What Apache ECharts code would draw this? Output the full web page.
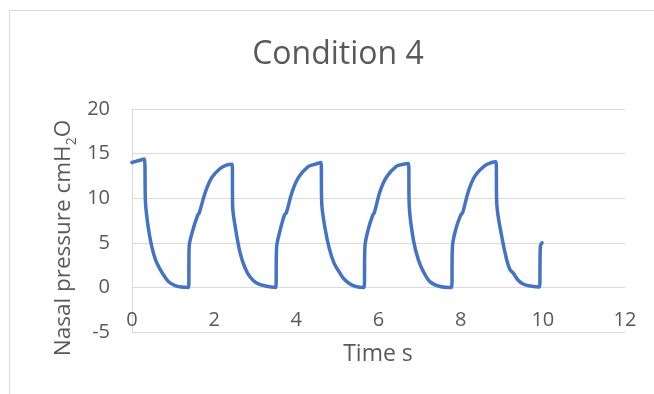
<!DOCTYPE html>
<html>
<head>
<meta charset="utf-8">
<title>Condition 4</title>
<script src="https://cdn.jsdelivr.net/npm/echarts@6/dist/echarts.min.js"></script>
<style>
  html, body { margin: 0; padding: 0; background: #fff; }
  #chart { width: 654px; height: 394px; }
</style>
</head>
<body>
<div id="chart"></div>
<script>
// time (s) and nasal pressure (cmH2O)
const timeS = [
  0.00, 0.15, 0.30, 0.33, 0.40, 0.48, 0.58, 0.70, 0.78, 0.90, 1.05, 1.20, 1.38,
  1.39, 1.48, 1.60, 1.64, 1.78, 1.94, 2.14, 2.30, 2.44,
  2.45, 2.52, 2.63, 2.75, 2.87, 3.03, 3.25, 3.50,
  3.52, 3.60, 3.71, 3.76, 3.89, 4.05, 4.28, 4.45, 4.60,
  4.62, 4.70, 4.80, 4.92, 5.05, 5.15, 5.30, 5.45, 5.65,
  5.67, 5.75, 5.86, 5.90, 6.04, 6.20, 6.44, 6.60, 6.73,
  6.75, 6.85, 6.97, 7.09, 7.25, 7.50, 7.78,
  7.80, 7.88, 8.00, 8.05, 8.19, 8.35, 8.59, 8.75, 8.86,
  8.88, 9.00, 9.12, 9.20, 9.28, 9.40, 9.53, 9.70, 9.92,
  9.94, 9.98
]
const pressure = [
  14.0, 14.2, 14.4, 9.4, 6.6, 4.6, 3.0, 1.9, 1.3, 0.6, 0.2, 0.05, 0.0,
  4.5, 6.4, 8.1, 8.4, 10.6, 12.3, 13.3, 13.7, 13.8,
  9.1, 6.6, 3.9, 2.2, 1.2, 0.5, 0.15, 0.0,
  4.5, 6.3, 8.1, 8.4, 10.6, 12.3, 13.5, 13.8, 14.0,
  9.3, 6.6, 4.4, 2.7, 1.7, 1.0, 0.4, 0.1, 0.0,
  4.6, 6.5, 8.1, 8.4, 10.8, 12.4, 13.6, 13.8, 13.9,
  9.0, 5.3, 3.1, 1.8, 0.65, 0.1, 0.0,
  4.6, 6.5, 8.1, 8.4, 10.8, 12.5, 13.65, 14.0, 14.1,
  9.3, 5.7, 3.1, 2.0, 1.6, 0.8, 0.35, 0.15, 0.05,
  4.6, 5.0
]
const chartTitle = 'Condition 4'
const xName = 'Time s'

const font = '"Open Sans", "Liberation Sans", sans-serif'
const textColor = '#595959'
const gridColor = '#d9d9d9'

const chart = echarts.init(document.getElementById('chart'), null, { renderer: 'canvas' })

chart.setOption({
  animation: false,
  backgroundColor: '#fff',
  textStyle: { fontFamily: font },
  grid: {
    left: 132,
    right: 29,
    top: 109,
    bottom: 62,
  },
  graphic: [
    {
      // chart area border
      type: 'rect',
      silent: true,
      shape: { x: 9.5, y: 10.5, width: 700, height: 500 },
      style: { fill: 'none', stroke: gridColor, lineWidth: 1 },
    },
    {
      type: 'text',
      x: 338,
      y: 55,
      style: {
        text: chartTitle,
        font: '32px ' + font,
        fill: textColor,
        textAlign: 'center',
        textVerticalAlign: 'middle',
      },
    },
    {
      type: 'text',
      x: 378,
      y: 354,
      style: {
        text: xName,
        font: '23px ' + font,
        fill: textColor,
        textAlign: 'center',
        textVerticalAlign: 'middle',
      },
    },
    {
      type: 'text',
      x: 64,
      y: 238,
      rotation: Math.PI / 2,
      style: {
        text: '{a|Nasal pressure cmH}{s|2}{a|O}',
        fill: textColor,
        align: 'center',
        verticalAlign: 'middle',
        rich: {
          a: { fontSize: 22.5, fontFamily: font, lineHeight: 30, verticalAlign: 'middle', fill: textColor },
          s: { fontSize: 14, fontFamily: font, lineHeight: 14, verticalAlign: 'bottom', fill: textColor },
        },
      },
    },
  ],
  xAxis: {
    type: 'value',
    min: 0,
    max: 12,
    interval: 2,
    axisLine: { show: true, onZero: false, lineStyle: { color: gridColor, width: 1 } },
    axisTick: { show: false },
    splitLine: { show: false },
    axisLabel: { color: textColor, fontSize: 20, margin: -22 },
  },
  yAxis: {
    type: 'value',
    min: -5,
    max: 20,
    interval: 5,
    axisLine: { show: true, lineStyle: { color: gridColor, width: 1 } },
    axisTick: { show: false },
    splitLine: { show: true, lineStyle: { color: gridColor, width: 1 } },
    axisLabel: { color: textColor, fontSize: 20, margin: 22 },
  },
  series: [
    {
      type: 'line',
      data: timeS.map((t, i) => [t, pressure[i]]),
      showSymbol: false,
      smooth: 0.35,
      lineStyle: { color: '#4472c4', width: 3.5, cap: 'round', join: 'round' },
      itemStyle: { color: '#4472c4' },
    },
  ],
})
</script>
</body>
</html>
